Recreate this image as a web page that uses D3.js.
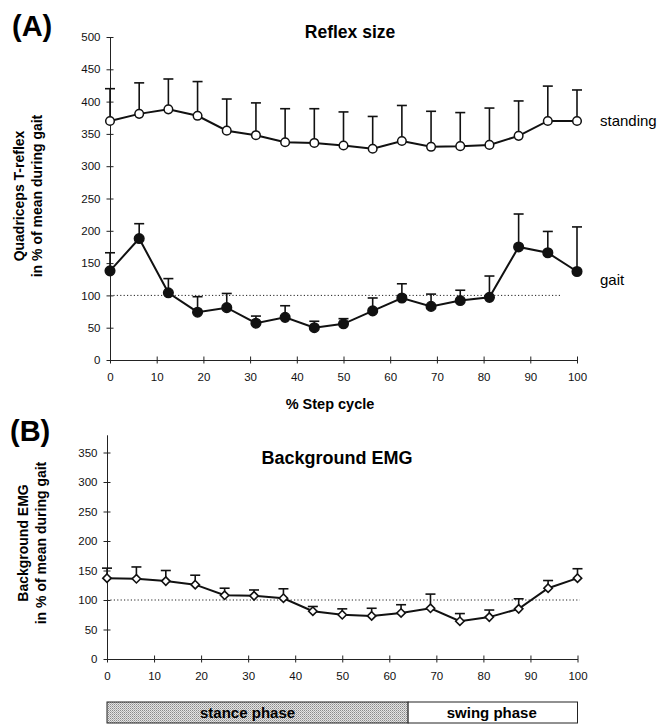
<!DOCTYPE html>
<html>
<head>
<meta charset="utf-8">
<script src="https://cdnjs.cloudflare.com/ajax/libs/d3/7.8.5/d3.min.js"></script>
<style>
  body { margin: 0; background: #fff; }
  svg { font-family: Arial, "Liberation Sans", sans-serif; }
  .tick text { font-size: 11.5px; fill: #111; }
  .tick line, .domain { stroke: #222; }
</style>
</head>
<body>
<div id="chart"></div>
<script>
// data (% step cycle, 17 points)
var steps = [0, 6.25, 12.5, 18.75, 25, 31.25, 37.5, 43.75, 50, 56.25, 62.5, 68.75, 75, 81.25, 87.5, 93.75, 100];

var standingMean = [370, 381, 388, 378, 355, 348, 337, 336, 332, 327, 339, 330, 331, 333, 347, 370, 370];
var standingUpper = [420, 429, 435, 431, 404, 398, 389, 389, 384, 377, 394, 385, 383, 390, 401, 424, 418];

var gaitMean = [138, 188, 104, 74, 81, 57, 66, 50, 56, 76, 96, 83, 92, 97, 175, 166, 137];
var gaitUpper = [166, 211, 126, 98, 103, 68, 84, 60, 64, 96, 118, 102, 108, 130, 226, 199, 206];

var emgMean = [137, 136, 132, 126, 108, 107, 103, 81, 75, 73, 78, 86, 64, 71, 85, 120, 137];
var emgUpper = [154, 156, 150, 142, 120, 117, 119, 89, 85, 86, 92, 110, 77, 83, 102, 133, 153];

var xTicks = [0, 10, 20, 30, 40, 50, 60, 70, 80, 90, 100];
var reflexTicks = [0, 50, 100, 150, 200, 250, 300, 350, 400, 450, 500];
var emgTicks = [0, 50, 100, 150, 200, 250, 300, 350];

var phaseNames = ["stance phase", "swing phase"];
var phaseBounds = [0, 64, 100];

var svgWidth = 659;
var svgHeight = 724;

var svg = d3.select("#chart")
    .append("svg")
    .attr("width", svgWidth)
    .attr("height", svgHeight);

// stipple pattern for the stance bar
var defs = svg.append("defs");
var pat = defs.append("pattern")
    .attr("id", "stipple")
    .attr("width", 2)
    .attr("height", 2)
    .attr("patternUnits", "userSpaceOnUse");
pat.append("rect").attr("width", 2).attr("height", 2).attr("fill", "#e4e4e4");
pat.append("rect").attr("width", 1).attr("height", 1).attr("fill", "#8a8a8a");
pat.append("rect").attr("x", 1).attr("y", 1).attr("width", 1).attr("height", 1).attr("fill", "#b0b0b0");

// make axis ticks cross the axis line
function crossLeft(g) {
    g.selectAll(".tick line").attr("x1", 3.5);
}
function crossBottom(g) {
    g.selectAll(".tick line").attr("y1", -3.5);
}

function drawSeries(g, x, y, mean, upper, marker) {
    // error bars (upper only)
    var bars = g.append("g");
    steps.forEach(function(s, i) {
        bars.append("line")
            .attr("x1", x(s)).attr("x2", x(s))
            .attr("y1", y(mean[i])).attr("y2", y(upper[i]))
            .attr("stroke", "#111").attr("stroke-width", 1.6);
        bars.append("line")
            .attr("x1", x(s) - 5).attr("x2", x(s) + 5)
            .attr("y1", y(upper[i])).attr("y2", y(upper[i]))
            .attr("stroke", "#111").attr("stroke-width", 1.6);
    });

    var line = d3.line()
        .x(function(d, i) { return x(steps[i]); })
        .y(function(d) { return y(d); });

    g.append("path")
        .datum(mean)
        .attr("d", line)
        .attr("fill", "none")
        .attr("stroke", "#111")
        .attr("stroke-width", 2);

    if (marker === "diamond") {
        g.selectAll(null)
            .data(mean)
            .enter()
            .append("path")
            .attr("d", function(d, i) {
                var cx = x(steps[i]), cy = y(d), r = 4.2;
                return "M" + cx + "," + (cy - r) + "L" + (cx + r) + "," + cy + "L" + cx + "," + (cy + r) + "L" + (cx - r) + "," + cy + "Z";
            })
            .attr("fill", "#fff")
            .attr("stroke", "#111")
            .attr("stroke-width", 1.6);
    } else {
        g.selectAll(null)
            .data(mean)
            .enter()
            .append("circle")
            .attr("cx", function(d, i) { return x(steps[i]); })
            .attr("cy", function(d) { return y(d); })
            .attr("r", marker === "filled" ? 4.8 : 4.3)
            .attr("fill", marker === "filled" ? "#111" : "#fff")
            .attr("stroke", "#111")
            .attr("stroke-width", 1.5);
    }
}

// ==============================
// Panel A: reflex size
// ==============================
var xA = d3.scaleLinear().domain([0, 100]).range([110, 577]);
var yA = d3.scaleLinear().domain([0, 500]).range([360, 37]);

svg.append("g")
    .attr("transform", "translate(0,360)")
    .call(d3.axisBottom(xA).tickValues(xTicks).tickSizeInner(3.5).tickSizeOuter(0).tickPadding(9))
    .call(crossBottom);

svg.append("g")
    .attr("transform", "translate(110,0)")
    .call(d3.axisLeft(yA).tickValues(reflexTicks).tickSizeInner(3.5).tickSizeOuter(0).tickPadding(6))
    .call(crossLeft);

// dotted 100% line
svg.append("line")
    .attr("x1", xA(0)).attr("x2", xA(96.5))
    .attr("y1", yA(100)).attr("y2", yA(100))
    .attr("stroke", "#222").attr("stroke-width", 1)
    .attr("stroke-dasharray", "1.2,2.2");

var gA = svg.append("g");
drawSeries(gA, xA, yA, standingMean, standingUpper, "open");
drawSeries(gA, xA, yA, gaitMean, gaitUpper, "filled");

svg.append("text").attr("x", 12).attr("y", 36)
    .attr("font-size", "29px").attr("font-weight", "bold").text("(A)");
svg.append("text").attr("x", 350).attr("y", 38).attr("text-anchor", "middle")
    .attr("font-size", "17.5px").attr("font-weight", "bold").text("Reflex size");
svg.append("text").attr("x", 600).attr("y", 126)
    .attr("font-size", "15px").text("standing");
svg.append("text").attr("x", 600).attr("y", 285)
    .attr("font-size", "15px").text("gait");
svg.append("text").attr("x", 330).attr("y", 409).attr("text-anchor", "middle")
    .attr("font-size", "14.5px").attr("font-weight", "bold").text("% Step cycle");

var yLabA = svg.append("text")
    .attr("transform", "translate(0,196) rotate(-90)")
    .attr("text-anchor", "middle")
    .attr("font-size", "14px").attr("font-weight", "bold");
yLabA.append("tspan").attr("x", 0).attr("y", 24).text("Quadriceps T-reflex");
yLabA.append("tspan").attr("x", 0).attr("y", 42).text("in % of mean during gait");

// ==============================
// Panel B: background EMG
// ==============================
var xB = d3.scaleLinear().domain([0, 100]).range([107, 577.5]);
var yB = d3.scaleLinear().domain([0, 380]).range([659, 434.8]);

svg.append("g")
    .attr("transform", "translate(0,659)")
    .call(d3.axisBottom(xB).tickValues(xTicks).tickSizeInner(3.5).tickSizeOuter(0).tickPadding(9))
    .call(crossBottom);

svg.append("g")
    .attr("transform", "translate(107,0)")
    .call(d3.axisLeft(yB).tickValues(emgTicks).tickSizeInner(3.5).tickSizeOuter(0).tickPadding(6))
    .call(crossLeft);

svg.append("line")
    .attr("x1", xB(0)).attr("x2", xB(100.5))
    .attr("y1", yB(100)).attr("y2", yB(100))
    .attr("stroke", "#222").attr("stroke-width", 1)
    .attr("stroke-dasharray", "1.2,2.2");

var gB = svg.append("g");
drawSeries(gB, xB, yB, emgMean, emgUpper, "diamond");

svg.append("text").attr("x", 10).attr("y", 441)
    .attr("font-size", "29px").attr("font-weight", "bold").text("(B)");
svg.append("text").attr("x", 337).attr("y", 464).attr("text-anchor", "middle")
    .attr("font-size", "18px").attr("font-weight", "bold").text("Background EMG");

var yLabB = svg.append("text")
    .attr("transform", "translate(0,543) rotate(-90)")
    .attr("text-anchor", "middle")
    .attr("font-size", "14px").attr("font-weight", "bold");
yLabB.append("tspan").attr("x", 0).attr("y", 28).text("Background EMG");
yLabB.append("tspan").attr("x", 0).attr("y", 46).text("in % of mean during gait");

// ==============================
// phase bar
// ==============================
var phaseG = svg.append("g");
phaseNames.forEach(function(name, i) {
    var x0 = xB(phaseBounds[i]), x1 = xB(phaseBounds[i + 1]);
    phaseG.append("rect")
        .attr("x", x0).attr("y", 702)
        .attr("width", x1 - x0).attr("height", 21)
        .attr("fill", i === 0 ? "url(#stipple)" : "#fff")
        .attr("stroke", "#222").attr("stroke-width", 1);
    phaseG.append("text")
        .attr("x", i === 0 ? (x0 + x1) / 2 - 10 : (x0 + x1) / 2 - 1)
        .attr("y", 718)
        .attr("text-anchor", "middle")
        .attr("font-size", "15px").attr("font-weight", "bold")
        .text(name);
});
</script>
</body>
</html>
